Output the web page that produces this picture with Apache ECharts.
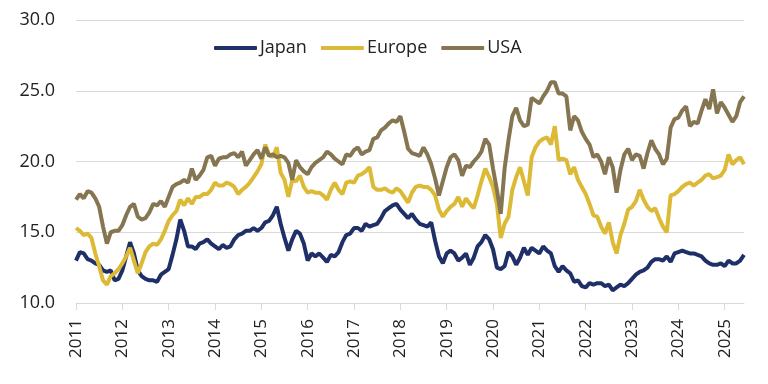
<!DOCTYPE html>
<html>
<head>
<meta charset="utf-8">
<script src="https://cdn.jsdelivr.net/npm/echarts@6/dist/echarts.min.js"></script>
<style>
html,body{margin:0;padding:0;background:#fff;}
#chart{width:768px;height:384px;}
</style>
</head>
<body>
<div id="chart"></div>
<script>
// Monthly data, Jan 2011 - Jun 2025
const startYear = 2011;
const monthCount = 174;
const months = [];
for (let i = 0; i < monthCount; i++) {
  const y = startYear + Math.floor(i / 12);
  const m = (i % 12) + 1;
  months.push(y + '-' + (m < 10 ? '0' + m : m));
}

const seriesNames = ['Japan', 'Europe', 'USA'];

const japan = [
  13.0, 13.6, 13.5, 13.1, 13.0, 12.8, 12.7, 12.3, 12.2, 12.3, 11.6, 11.7,
  12.3, 13.3, 14.3, 13.5, 12.3, 11.9, 11.7, 11.6, 11.6, 11.5, 12.0, 12.2,
  12.4, 13.4, 14.5, 15.9, 15.1, 14.0, 14.0, 13.8, 14.2, 14.3, 14.5, 14.2,
  14.0, 13.8, 14.1, 13.9, 14.0, 14.5, 14.8, 14.9, 15.1, 15.1, 15.3, 15.1,
  15.3, 15.7, 15.8, 16.2, 16.8, 15.6, 14.6, 13.7, 14.5, 15.1, 14.9, 14.2,
  13.0, 13.5, 13.3, 13.5, 13.2, 12.9, 13.4, 13.3, 13.6, 14.3, 14.8, 14.9,
  15.3, 15.3, 15.1, 15.6, 15.4, 15.5, 15.6, 16.0, 16.5, 16.7, 16.9, 17.0,
  16.6, 16.3, 16.0, 16.3, 15.9, 15.6, 15.5, 15.4, 15.7, 14.4, 13.3, 12.8,
  13.5, 13.7, 13.5, 13.0, 13.2, 13.5, 12.7, 13.2, 14.0, 14.3, 14.8, 14.5,
  13.8, 12.5, 12.4, 12.6, 13.6, 13.3, 12.7, 13.2, 13.9, 13.4, 13.9, 13.7,
  13.5, 14.0, 13.7, 13.5, 12.6, 12.2, 12.6, 12.3, 12.1, 11.5, 11.6, 11.2,
  11.1, 11.4, 11.3, 11.4, 11.4, 11.2, 11.3, 10.9, 11.1, 11.3, 11.2, 11.4,
  11.7, 12.0, 12.2, 12.3, 12.5, 12.9, 13.1, 13.1, 13.0, 13.3, 12.9, 13.5,
  13.6, 13.7, 13.6, 13.5, 13.5, 13.4, 13.3, 13.0, 12.8, 12.7, 12.7, 12.8,
  12.6, 13.0, 12.8, 12.8, 13.0, 13.4
];

const europe = [
  15.3, 15.1, 14.8, 14.9, 14.6, 13.5, 12.6, 11.6, 11.3, 11.9, 12.1, 12.4,
  12.8, 13.3, 13.9, 13.0, 12.1, 12.8, 13.6, 14.0, 14.2, 14.1, 14.5, 15.1,
  15.8, 16.2, 16.5, 17.3, 16.9, 17.4, 17.0, 17.5, 17.5, 17.7, 17.7, 18.0,
  18.5, 18.3, 18.3, 18.5, 18.4, 18.2, 17.7, 18.0, 18.2, 18.5, 18.9, 19.3,
  19.8, 21.2, 20.5, 20.3, 21.0, 19.2, 18.7, 17.5, 18.7, 18.6, 19.0, 18.2,
  17.8, 17.9, 17.8, 17.8, 17.6, 17.3, 18.0, 18.5, 18.0, 17.7, 18.5, 18.6,
  18.5, 19.0, 19.1, 19.3, 19.6, 18.2, 18.0, 18.0, 18.1, 17.9, 17.8, 18.1,
  17.9, 17.5, 17.1, 17.8, 18.2, 18.3, 18.2, 18.2, 18.0, 17.6, 16.6, 16.1,
  16.5, 16.8, 17.0, 17.5, 16.8, 17.4, 17.0, 16.7, 17.6, 18.6, 19.5, 18.9,
  18.2, 17.0, 14.6, 15.6, 16.1, 18.0, 18.9, 19.6, 18.6, 17.6, 20.3, 21.0,
  21.4, 21.6, 21.7, 21.2, 22.5, 20.1, 20.2, 20.1, 19.1, 19.6, 18.7, 18.2,
  17.7, 17.0, 16.2, 16.1, 15.4, 14.9, 15.7, 14.3, 13.5, 14.8, 15.6, 16.6,
  16.8, 17.2, 18.0, 17.3, 16.8, 16.5, 16.7, 16.0, 15.4, 15.0, 17.6, 17.7,
  17.9, 18.2, 18.4, 18.5, 18.3, 18.5, 18.7, 19.0, 19.1, 18.8, 18.9, 19.0,
  19.4, 20.5, 19.8, 20.1, 20.3, 19.8
];

const usa = [
  17.3, 17.7, 17.4, 17.9, 17.8, 17.4, 16.8, 15.4, 14.2, 15.0, 15.1, 15.1,
  15.5, 16.2, 16.8, 17.0, 16.1, 15.9, 16.0, 16.4, 17.0, 16.9, 17.2, 16.8,
  17.5, 18.2, 18.4, 18.5, 18.7, 18.5, 19.5, 18.7, 19.0, 19.4, 20.3, 20.4,
  19.7, 20.2, 20.3, 20.3, 20.5, 20.6, 20.3, 20.7, 19.7, 20.1, 20.5, 20.8,
  20.2, 21.0, 20.4, 20.5, 20.3, 20.4, 20.3, 19.9, 18.7, 20.1, 19.6, 19.3,
  19.1, 19.6, 19.9, 20.1, 20.3, 20.7, 20.5, 20.2, 20.0, 19.8, 20.5, 20.4,
  20.8, 21.0, 20.5, 20.7, 20.8, 21.6, 21.7, 22.2, 22.4, 22.7, 22.9, 22.8,
  23.2, 22.1, 20.9, 20.6, 20.5, 20.4, 21.0, 20.5, 19.8, 18.8, 17.6, 18.6,
  19.6, 20.3, 20.5, 20.1, 19.0, 19.7, 19.6, 20.0, 20.3, 20.7, 21.6, 21.2,
  19.5, 18.0, 16.3, 19.5, 21.5, 23.2, 23.8, 22.9, 22.5, 22.6, 24.5, 24.3,
  24.1, 24.6, 25.0, 25.6, 25.6, 24.8, 24.8, 24.6, 22.2, 23.2, 22.9, 22.1,
  21.6, 21.2, 20.3, 20.5, 20.0, 19.1, 20.3, 19.6, 17.8, 19.4, 20.5, 20.9,
  20.1, 20.5, 20.4, 19.5, 20.6, 21.5, 20.9, 20.5, 19.8, 20.2, 22.4, 23.0,
  23.1, 23.6, 23.9, 22.5, 22.8, 22.7, 23.6, 24.4, 23.7, 25.1, 23.4, 24.2,
  23.8, 23.3, 22.8, 23.2, 24.2, 24.6
];

const colors = ['#1F3068', '#DDBA35', '#857551'];
const yMin = 10, yMax = 30, yStep = 5;
const font = '"Open Sans", "Noto Sans", sans-serif';

const chart = echarts.init(document.getElementById('chart'), null, {renderer: 'canvas'});
const isYearStart = (idx) => idx % 12 === 0;

chart.setOption({
  animation: false,
  backgroundColor: '#ffffff',
  color: colors,
  grid: {left: 76, right: 24, top: 20, bottom: 81, containLabel: false},
  legend: {
    data: seriesNames,
    left: 209,
    top: 34,
    icon: 'roundRect',
    itemWidth: 43,
    itemHeight: 4,
    itemGap: 14,
    textStyle: {fontFamily: font, fontSize: 18, color: '#222', padding: [0, 0, 0, -2]}
  },
  xAxis: {
    type: 'category',
    data: months,
    boundaryGap: false,
    axisLine: {show: true, lineStyle: {color: '#d9d9d9', width: 1}},
    axisTick: {show: true, interval: (i) => isYearStart(i), length: 7, lineStyle: {color: '#d9d9d9'}},
    axisLabel: {
      interval: (i) => isYearStart(i),
      rotate: 90,
      margin: 16,
      fontFamily: font,
      fontSize: 17,
      color: '#222',
      formatter: (v) => v.slice(0, 4)
    },
    splitLine: {show: false}
  },
  yAxis: {
    type: 'value',
    min: yMin,
    max: yMax,
    interval: yStep,
    axisLine: {show: false},
    axisTick: {show: false},
    axisLabel: {
      margin: 21,
      fontFamily: font,
      fontSize: 18,
      color: '#222',
      formatter: (v) => v.toFixed(1)
    },
    splitLine: {show: true, lineStyle: {color: '#d9d9d9', width: 1}}
  },
  series: [
    {name: seriesNames[0], type: 'line', data: japan, showSymbol: false, lineStyle: {width: 4, color: colors[0]}, itemStyle: {color: colors[0]}},
    {name: seriesNames[1], type: 'line', data: europe, showSymbol: false, lineStyle: {width: 4, color: colors[1]}, itemStyle: {color: colors[1]}},
    {name: seriesNames[2], type: 'line', data: usa, showSymbol: false, lineStyle: {width: 4, color: colors[2]}, itemStyle: {color: colors[2]}}
  ]
});
</script>
</body>
</html>
